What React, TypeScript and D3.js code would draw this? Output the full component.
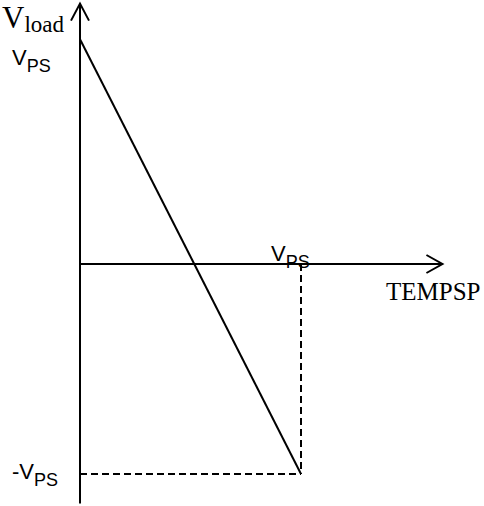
import * as d3 from "d3";
import React from "react";

// line endpoints in units of V_PS (x = TEMPSP, y = V_load)
const lineX = [0, 1];
const lineY = [1.07, -1];
// axis extents (arrow tips) in the same units
const xAxisExtent = [0, 1.64];
const yAxisExtent = [-1.14, 1.24];

const W = 484;
const H = 506;

const App = () => {
  const x = d3.scaleLinear().domain([0, 1]).range([80, 301]);
  const y = d3.scaleLinear().domain([-1, 1]).range([474, 54]);

  const pts: [number, number][] = lineX.map((v, i) => [v, lineY[i]]);
  const line = d3
    .line<[number, number]>()
    .x((d) => x(d[0]))
    .y((d) => y(d[1]));

  const x0 = x(0);
  const y0 = y(0);
  const xTip = x(xAxisExtent[1]);
  const yTip = y(yAxisExtent[1]);
  const yBottom = y(yAxisExtent[0]);
  const xEnd = x(lineX[1]);
  const yEnd = y(lineY[1]);

  const sans = "Liberation Sans, Arial, sans-serif";
  const serif = "Liberation Serif, Times New Roman, serif";

  return (
    <svg
      width={W}
      height={H}
      style={{ position: "absolute", left: 0, top: 0, background: "#fff" }}
    >
      <g stroke="#000" strokeWidth={2} fill="none">
        {/* y axis + arrow */}
        <line x1={x0} y1={yBottom} x2={x0} y2={yTip} />
        <path d={`M${x0 - 9},${yTip + 17}L${x0},${yTip}L${x0 + 9},${yTip + 17}`} />
        {/* x axis + arrow */}
        <line x1={x0} y1={y0} x2={xTip} y2={y0} />
        <path d={`M${xTip - 16},${y0 - 9}L${xTip},${y0}L${xTip - 16},${y0 + 9}`} />
        {/* the line */}
        <path d={line(pts) || ""} />
        {/* dashed guides */}
        <g strokeDasharray="7,4">
          <line x1={xEnd} y1={y0} x2={xEnd} y2={yEnd} />
          <line x1={x0} y1={yEnd} x2={xEnd} y2={yEnd} />
        </g>
      </g>

      <text x={2} y={28} fontFamily={serif} fontSize={31} fill="#000">
        V<tspan fontSize={23} dy={4}>load</tspan>
      </text>
      <text x={12} y={65} fontFamily={sans} fontSize={22} fill="#000">
        V<tspan fontSize={18} dy={7}>PS</tspan>
      </text>
      <text x={271} y={y0 - 3} fontFamily={sans} fontSize={22} fill="#000">
        V<tspan fontSize={18} dy={7}>PS</tspan>
      </text>
      <text x={12} y={yEnd + 5} fontFamily={sans} fontSize={22} fill="#000">
        -V<tspan fontSize={18} dy={7}>PS</tspan>
      </text>
      <text x={386} y={y0 + 36} fontFamily={serif} fontSize={25} fill="#000">
        TEMPSP
      </text>
    </svg>
  );
};

export default App;
